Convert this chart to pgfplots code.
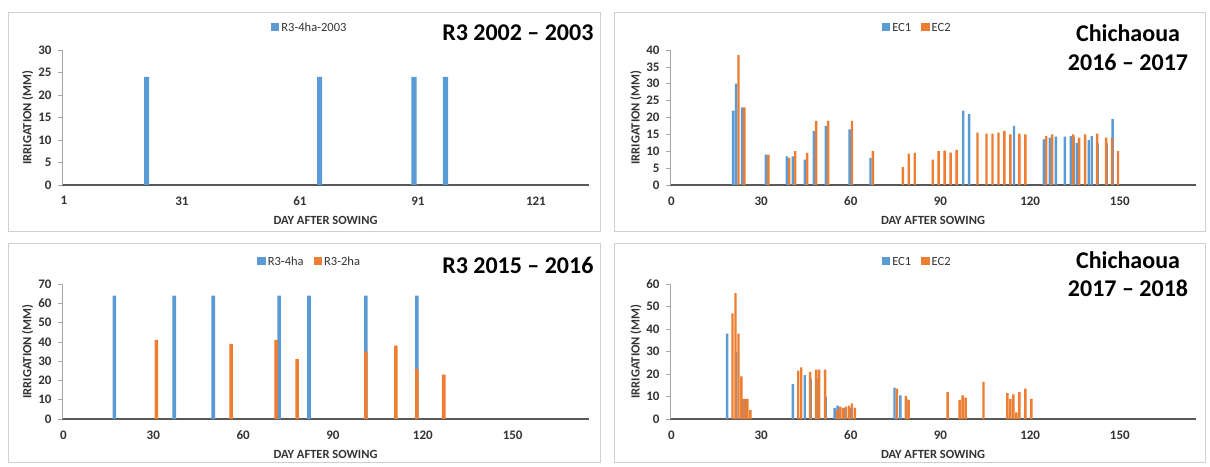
\documentclass[border=0pt]{standalone}
\usepackage{fontspec}
\setmainfont{Carlito}
\usepackage{pgfplots}
\pgfplotsset{compat=1.18}
\definecolor{cblue}{HTML}{5B9BD5}
\definecolor{corange}{HTML}{ED7D31}
\definecolor{framec}{HTML}{D0D0D0}
\definecolor{axisgray}{HTML}{595959}
\definecolor{txt}{HTML}{333333}
\pgfplotsset{
 panel/.style={
   scale only axis, width=527pt, height=135pt,
   ybar,
   axis x line*=bottom, axis y line*=left,
   x axis line style={axisgray, line width=1.3pt, -},
   y axis line style={gray!70, line width=0.6pt, -},
   ymin=0, enlargelimits=false,
   xtick style={draw=none},
   ytick style={gray!70, line width=0.6pt},
   tick align=outside, major tick length=4pt,
   /pgf/number format/assume math mode=true,
   tick label style={font=\fontsize{13}{14}\selectfont\bfseries, text=txt},
   xticklabel style={yshift=-4pt},
   yticklabel style={xshift=-3pt},
   xlabel={DAY AFTER SOWING}, ylabel={IRRIGATION (MM)},
   every axis x label/.style={at={(axis description cs:0.5,-0.26)}, anchor=center,
     font=\fontsize{12.5}{14}\selectfont\bfseries, text=txt},
   every axis y label/.style={at={(axis description cs:-0.065,0.5)}, rotate=90, anchor=center,
     font=\fontsize{12.5}{14}\selectfont\bfseries, text=txt},
   legend style={draw=none, fill=none, font=\fontsize{12.5}{14}\selectfont, text=txt,
     legend columns=-1, anchor=center, at={(axis description cs:0.47,1.165)},
     /tikz/every even column/.append style={column sep=8pt}},
   legend image code/.code={\fill[##1, draw=none, /tikz/.cd, yshift=-0.33em] (0pt,0pt) rectangle (8.5pt,8.5pt);},
 },
 bluebar/.style={fill=cblue, draw=none},
 orangebar/.style={fill=corange, draw=none},
}
\begin{document}
\begin{tikzpicture}
\path[use as bounding box] (0pt,0pt) rectangle (1210pt,466pt);
% panel frames
\draw[framec, line width=0.8pt] (8pt,235pt) rectangle (600pt,454pt);
\draw[framec, line width=0.8pt] (8pt,4pt) rectangle (600pt,223pt);
\draw[framec, line width=0.8pt] (614pt,235pt) rectangle (1205pt,454pt);
\draw[framec, line width=0.8pt] (614pt,4pt) rectangle (1205pt,223pt);

% ---------- top-left ----------
\begin{axis}[panel, at={(62pt,281pt)}, anchor=south west,
  xmin=0.5, xmax=134.5, ymax=30, ytick={0,5,...,30},
  xtick={1,31,61,91,121}, xticklabels={1,31,61,91,121}]
\addplot[bluebar, bar width=1.3, bar shift=0] coordinates {(22,24) (66,24) (90,24) (98,24)};
\addlegendentry{R3-4ha-2003}
\end{axis}

% ---------- bottom-left ----------
\begin{axis}[panel, at={(62pt,47pt)}, anchor=south west,
  xmin=-0.5, xmax=175.5, ymax=70, ytick={0,10,...,70},
  xtick={0,30,...,150}, xticklabels={0,30,60,90,120,150}]
\addplot[bluebar, bar width=1.2, bar shift=0] coordinates {(17,64) (37,64) (50,64) (72,64) (82,64) (101,64) (118,64)};
\addlegendentry{R3-4ha}
\addplot[orangebar, bar width=1.2, bar shift=0] coordinates {(31,41) (56,39) (71,41) (78,31) (101,35) (111,38) (118,26) (127,23)};
\addlegendentry{R3-2ha}
\end{axis}

% ---------- top-right ----------
\begin{axis}[panel, at={(670pt,281pt)}, anchor=south west, width=526pt,
  xmin=-0.5, xmax=175.5, ymax=40, ytick={0,5,...,40},
  xtick={0,30,...,150}, xticklabels={0,30,60,90,120,150}]
\addplot[bluebar, bar width=0.8, bar shift=-0.4] coordinates {
 (21,22) (22,30) (24,23) (32,9) (39,8.5) (41,8.5) (45,7.5) (48,16) (52,17.5)
 (60,16.5) (67,8) (98,22) (100,21) (115,17.5) (125,13.5) (127,14) (129,14.3)
 (132,14.3) (134,14.5) (135,14.3) (136,12.5) (140,13.3) (141,14.5) (143,12.3)
 (146,12.3) (148,19.5)};
\addlegendentry{EC1}
\addplot[orangebar, bar width=0.8, bar shift=0.4] coordinates {
 (22,38.5) (24,23) (32,9) (39,8) (41,10) (45,9.5) (48,19) (52,19) (60,19)
 (67,10) (77,5.3) (79,9.3) (81,9.5) (87,7.5) (89,10) (91,10.2) (93,9.6) (95,10.4)
 (102,15.5) (105,15.2) (107,15.2) (109,15.5) (111,16) (113,15) (116,15.2) (118,15)
 (125,14.5) (127,15) (134,15) (136,14) (138,15) (142,15.2) (145,14) (147,14) (149,10)};
\addlegendentry{EC2}
\end{axis}

% ---------- bottom-right ----------
\begin{axis}[panel, at={(670pt,47pt)}, anchor=south west, width=526pt,
  xmin=-0.5, xmax=175.5, ymax=60, ytick={0,10,...,60},
  xtick={0,30,...,150}, xticklabels={0,30,60,90,120,150}]
\addplot[bluebar, bar width=0.8, bar shift=-0.4] coordinates {
 (19,38) (22,30) (24,9) (25,9) (41,15.5) (45,19.5) (47,18) (49,18) (52,10)
 (55,5) (56,6) (58,5) (60,5) (75,14) (77,10.5) (79,9)};
\addlegendentry{EC1}
\addplot[orangebar, bar width=0.8, bar shift=0.4] coordinates {
 (20,47) (21,56) (22,38) (23,19) (24,9) (25,9) (26,4) (42,21.5) (43,23) (46,21)
 (48,22) (49,22) (51,22) (55,4) (56,5.5) (57,5) (58,5.5) (59,6) (60,7) (61,5)
 (75,13.5) (78,10.3) (79,8.5) (92,12) (96,8.5) (97,10.5) (98,9.5) (104,16.5)
 (112,11.5) (113,9) (114,11) (115,3) (116,12) (118,13.5) (120,9)};
\addlegendentry{EC2}
\end{axis}

% titles
\node[anchor=east, font=\fontsize{24}{28}\selectfont\bfseries] at (597pt,433pt) {R3 2002 – 2003};
\node[anchor=east, font=\fontsize{24}{28}\selectfont\bfseries] at (597pt,201pt) {R3 2015 – 2016};
\node[align=center, font=\fontsize{24}{29}\selectfont\bfseries] at (1128pt,418.5pt) {Chichaoua\\2016 – 2017};
\node[align=center, font=\fontsize{24}{28}\selectfont\bfseries] at (1128pt,192pt) {Chichaoua\\2017 – 2018};
\end{tikzpicture}
\end{document}
